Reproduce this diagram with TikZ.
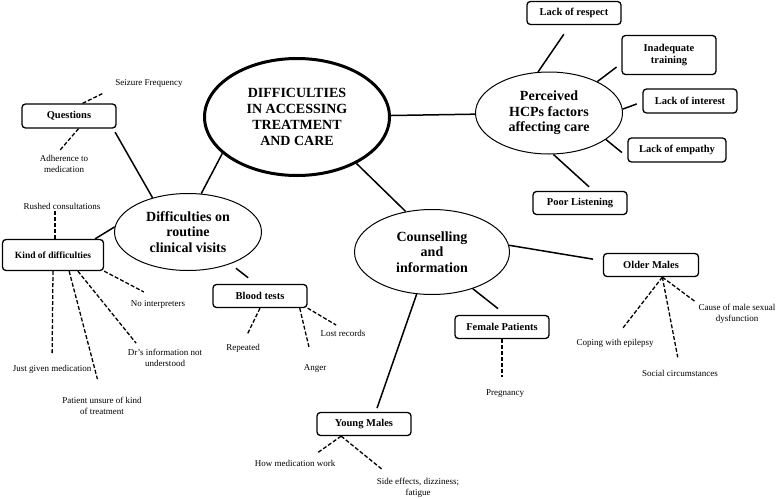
\documentclass[tikz,border=0pt]{standalone}
\usepackage{fontspec}
\setmainfont{Liberation Serif}
\usetikzlibrary{shapes.geometric}

\begin{document}
\begin{tikzpicture}[
                x=1pt,y=-1pt,
                hub/.style={ellipse,draw,line width=3pt,inner sep=0pt,align=center,
                    minimum width=185pt,minimum height=117pt,
                    font=\fontsize{14}{16}\selectfont\bfseries},
                topic/.style={ellipse,draw,line width=1pt,inner sep=0pt,align=center,
                    font=\fontsize{14}{15.5}\selectfont\bfseries},
                factor/.style={draw,rounded corners=3.5pt,line width=1.3pt,align=center,
                    minimum width=94pt,minimum height=23pt,inner sep=1pt,
                    font=\fontsize{10.5}{12.5}\selectfont\bfseries},
                leaf/.style={align=center,inner sep=0.5pt,font=\fontsize{9}{11}\selectfont},
                link/.style={line width=1.5pt},
                hint/.style={line width=1.3pt,dash pattern=on 4pt off 2pt}
            ]
                \useasboundingbox (0,0) rectangle (778,498);

                \node[hub] (care) at (297,117) {DIFFICULTIES\\IN ACCESSING\\TREATMENT\\AND CARE};
                \node[topic,minimum width=147pt,minimum height=82pt] (hcp) at (549,113)
                    {Perceived\\HCPs factors\\affecting care};
                \node[topic,minimum width=155pt,minimum height=85pt] (counsel) at (432,252)
                    {Counselling\\and\\information};
                \node[topic,minimum width=147pt,minimum height=77pt] (visits) at (188,232)
                    {Difficulties on\\routine\\clinical visits};

                \node[factor] (respect) at (574,13) {Lack of respect};
                \node[factor,minimum height=39pt] (training) at (669,55) {Inadequate\\training};
                \node[factor,minimum height=24pt] (interest) at (690,101) {Lack of interest};
                \node[factor,minimum width=98pt,minimum height=24pt] (empathy) at (677,150) {Lack of empathy};
                \node[factor] (listening) at (580,203) {Poor Listening};
                \node[factor,minimum width=95pt] (older) at (651,265) {Older Males};
                \node[factor] (female) at (502,327) {Female Patients};
                \node[factor] (young) at (364,424) {Young Males};
                \node[factor] (blood) at (260,296) {Blood tests};
                \node[factor,minimum height=24pt] (questions) at (69,116) {Questions};
                \node[factor,minimum width=101pt,minimum height=31pt,
                    font=\fontsize{9.5}{11}\selectfont\bfseries] (kind) at (53,255) {Kind of difficulties};

                \node[leaf] (seizure) at (149,83) {Seizure Frequency};
                \node[leaf] (adherence) at (64,164) {Adherence to\\medication};
                \node[leaf] (rushed) at (62,206) {Rushed consultations};
                \node[leaf] (given) at (52,369) {Just given medication};
                \node[leaf] (unsure) at (102,406) {Patient unsure of kind\\of treatment};
                \node[leaf] (drinfo) at (165,358) {Dr’s information not\\understood};
                \node[leaf] (interp) at (158,304) {No interpreters};
                \node[leaf] (repeated) at (243,348) {Repeated};
                \node[leaf] (anger) at (315,368) {Anger};
                \node[leaf] (lost) at (343,333) {Lost records};
                \node[leaf] (pregnancy) at (505,394) {Pregnancy};
                \node[leaf] (howmed) at (295,463) {How medication work};
                \node[leaf] (sidefx) at (418,488) {Side effects, dizziness;\\fatigue};
                \node[leaf] (coping) at (615,343) {Coping with epilepsy};
                \node[leaf] (social) at (680,373) {Social circumstances};
                \node[leaf] (cause) at (737,314) {Cause of male sexual\\dysfunction};

                \draw[link] (care) -- (hcp);
                \draw[link] (care.206) -- (visits.71);
                \draw[link] (care.-38) -- (counsel.123);

                \draw[link,shorten >=11pt] (hcp.105) -- (respect.252);
                \draw[link,shorten >=6pt] (hcp.33) -- (training.190);
                \draw[link,shorten >=6pt] (hcp.3) -- (interest.181);
                \draw[link,shorten >=7pt] (hcp.-25) -- (empathy.188);
                \draw[link,shorten >=6pt] (hcp.-84) -- (listening.42);

                \draw[link,shorten >=4pt] (visits.136) -- (questions.-16);
                \draw[link] (visits.176) -- (kind.21);
                \draw[link,shorten <=7pt,shorten >=10pt] (visits.-37) -- (blood.108);

                \draw[link,shorten >=10pt] (counsel.5) -- (older.175);
                \draw[link,shorten >=10pt] (counsel.-42) -- (female.72);
                \draw[link,shorten >=4pt] (counsel.-110) -- (young.46);

                \draw[hint,shorten >=12pt] (questions.43) -- (seizure.south west);
                \draw[hint,shorten >=5pt] (questions.-53) -- (adherence.130);
                \draw[hint,shorten >=1pt] (kind.83) -- (kind.83 |- rushed.south);
                \draw[hint,shorten >=11pt] (kind.south) -- (given.north);
                \draw[hint,shorten >=18pt] (kind.-45) -- (unsure.north);
                \draw[hint,shorten >=7pt] (kind.-33) -- (drinfo.159);
                \draw[hint,shorten >=16pt] (kind.south east) -- (interp.north);
                \draw[hint,shorten >=10pt] (blood.south) -- (repeated.north);
                \draw[hint,shorten >=17pt] (blood.-17) -- (anger.115);
                \draw[hint,shorten >=8pt] (blood.south east) -- (lost.north);
                \draw[hint,shorten >=12pt] (female.south) -- (female.south |- pregnancy.north);
                \draw[hint,shorten >=13pt] (older.-47) -- (coping.north);
                \draw[hint,shorten >=12pt] (older.-47) -- (social.north);
                \draw[hint,shorten >=4pt] (older.-47) -- (cause.north west);
                \draw[hint,shorten >=10pt] (young.208) -- (howmed.16);
                \draw[hint,shorten >=13pt] (young.208) -- (sidefx.158);
            \end{tikzpicture}
\end{document}
